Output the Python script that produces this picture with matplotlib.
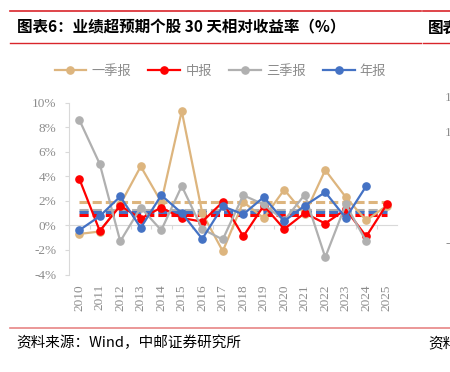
import numpy as np
import matplotlib
matplotlib.use('Agg')
import matplotlib.pyplot as plt
from matplotlib.lines import Line2D

# dados (% de retorno relativo em 30 dias)
anos = [2010, 2011, 2012, 2013, 2014, 2015, 2016, 2017, 2018, 2019, 2020, 2021, 2022, 2023, 2024, 2025]
rotulos_x = [str(a) for a in anos]

q1 = [-0.7, -0.5, 1.7, 4.8, 1.9, 9.3, 1.0, -2.1, 1.9, 0.6, 2.9, 0.9, 4.5, 2.3, 0.4, 1.6]
semestral = [3.8, -0.45, 1.6, 0.55, 1.45, 0.6, 0.3, 1.9, -0.9, 1.6, -0.3, 1.0, 0.15, 1.3, -0.9, 1.7]
q3 = [8.6, 5.0, -1.3, 1.45, -0.4, 3.2, -0.3, -1.15, 2.45, 1.7, 0.4, 2.5, -2.6, 1.7, -1.3]
anual = [-0.4, 0.75, 2.35, -0.2, 2.45, 1.0, -1.1, 1.55, 0.9, 2.3, 0.35, 1.6, 2.7, 0.6, 3.2]

# medias (linhas tracejadas)
medias = [1.9, 0.85, 1.25, 1.1]

nomes = ['一季报', '中报', '三季报', '年报']
cores = ['#DDB57E', '#FF0000', '#B0B0B0', '#4472C4']
series = [q1, semestral, q3, anual]

cinza_txt = '#8C8C8C'
vermelho = '#D9252B'
serif = ['Liberation Serif', 'DejaVu Serif']
cjk = ['Noto Sans CJK SC', 'DejaVu Sans']

fig = plt.figure(figsize=(4.5, 3.72), dpi=100)
ax = fig.add_axes([69/450, 1-274.5/372, 328/450, 172/372])

# linhas de media
for m, c in zip(medias, cores):
    ax.plot([anos[0], anos[-1]], [m, m], color=c, lw=2.2, dashes=(3, 1.3), zorder=2,
            solid_capstyle='butt', dash_capstyle='butt')

# series
for s, c, n in zip(series, cores, nomes):
    ax.plot(anos[:len(s)], s, color=c, lw=1.6, marker='o', ms=5.2, label=n, zorder=3)

ax.set_xlim(anos[0]-0.5, anos[-1]+0.5)
ax.set_ylim(-4, 10)
ax.set_yticks(np.arange(-4, 11, 2))
ax.set_yticklabels([f'{v}%' for v in range(-4, 11, 2)], fontfamily=serif, fontsize=9.5, color=cinza_txt)

# eixo x no zero, marcas entre categorias
for k in ['top', 'right']:
    ax.spines[k].set_visible(False)
ax.spines['left'].set_color('#D9D9D9')
ax.spines['bottom'].set_position(('data', 0))
ax.spines['bottom'].set_color('#D9D9D9')
ax.spines['bottom'].set_zorder(1)
ax.set_xticks([a + 0.5 for a in anos[:-1]] + [anos[0]-0.5])
ax.tick_params(axis='x', length=3, color='#D9D9D9', labelbottom=False)
ax.tick_params(axis='y', length=3, color='#D9D9D9', pad=6)

# rotulos de ano embaixo
sec = ax.secondary_xaxis('bottom')
sec.set_xticks(anos)
sec.set_xticklabels(rotulos_x, rotation=90, fontfamily=serif, fontsize=9.5, color=cinza_txt)
sec.tick_params(length=0, pad=7)
sec.spines['bottom'].set_visible(False)

# legenda
handles = [Line2D([], [], color=c, lw=1.6, marker='o', ms=5.2) for c in cores]
leg = fig.legend(handles, nomes, loc='center', bbox_to_anchor=(0.49, 1-71/372), ncol=4,
                 frameon=False, handlelength=2.4, handletextpad=0.4, columnspacing=1.3,
                 prop={'family': cjk, 'size': 9.5})
for t in leg.get_texts():
    t.set_color(cinza_txt)

# cabecalho e rodape
fig.add_artist(Line2D([10/450, 421/450], [1-10.5/372]*2, color=vermelho, lw=1.2))
fig.add_artist(Line2D([423/450, 1], [1-10.5/372]*2, color=vermelho, lw=1.2))
fig.add_artist(Line2D([10/450, 421/450], [1-42.5/372]*2, color=vermelho, lw=1.0))
fig.add_artist(Line2D([423/450, 1], [1-42.5/372]*2, color=vermelho, lw=1.0))
fig.add_artist(Line2D([10/450, 1], [1-327.5/372]*2, color='#E88585', lw=1.2))

fig.text(17/450, 1-27.5/372, '图表6：业绩超预期个股 30 天相对收益率（%）', fontfamily=cjk,
         fontsize=11.2, fontweight='bold', va='center', ha='left')
fig.text(428/450, 1-27.5/372, '图表', fontfamily=cjk, fontsize=11.2, fontweight='bold',
         va='center', ha='left')
fig.text(16/450, 1-343/372, '资料来源：Wind，中邮证券研究所', fontfamily=cjk, fontsize=10.5,
         va='center', ha='left')
fig.text(428/450, 1-343/372, '资料', fontfamily=cjk, fontsize=10.5, va='center', ha='left')

# pedaco do grafico vizinho
fig.text(445/450, 1-98/372, '1', fontfamily=serif, fontsize=9.5, color=cinza_txt, va='center', ha='left')
fig.text(445/450, 1-133/372, '1', fontfamily=serif, fontsize=9.5, color=cinza_txt, va='center', ha='left')
fig.text(446/450, 1-244/372, '-', fontfamily=serif, fontsize=9.5, color=cinza_txt, va='center', ha='left')

fig.savefig('out.png', dpi=100)
